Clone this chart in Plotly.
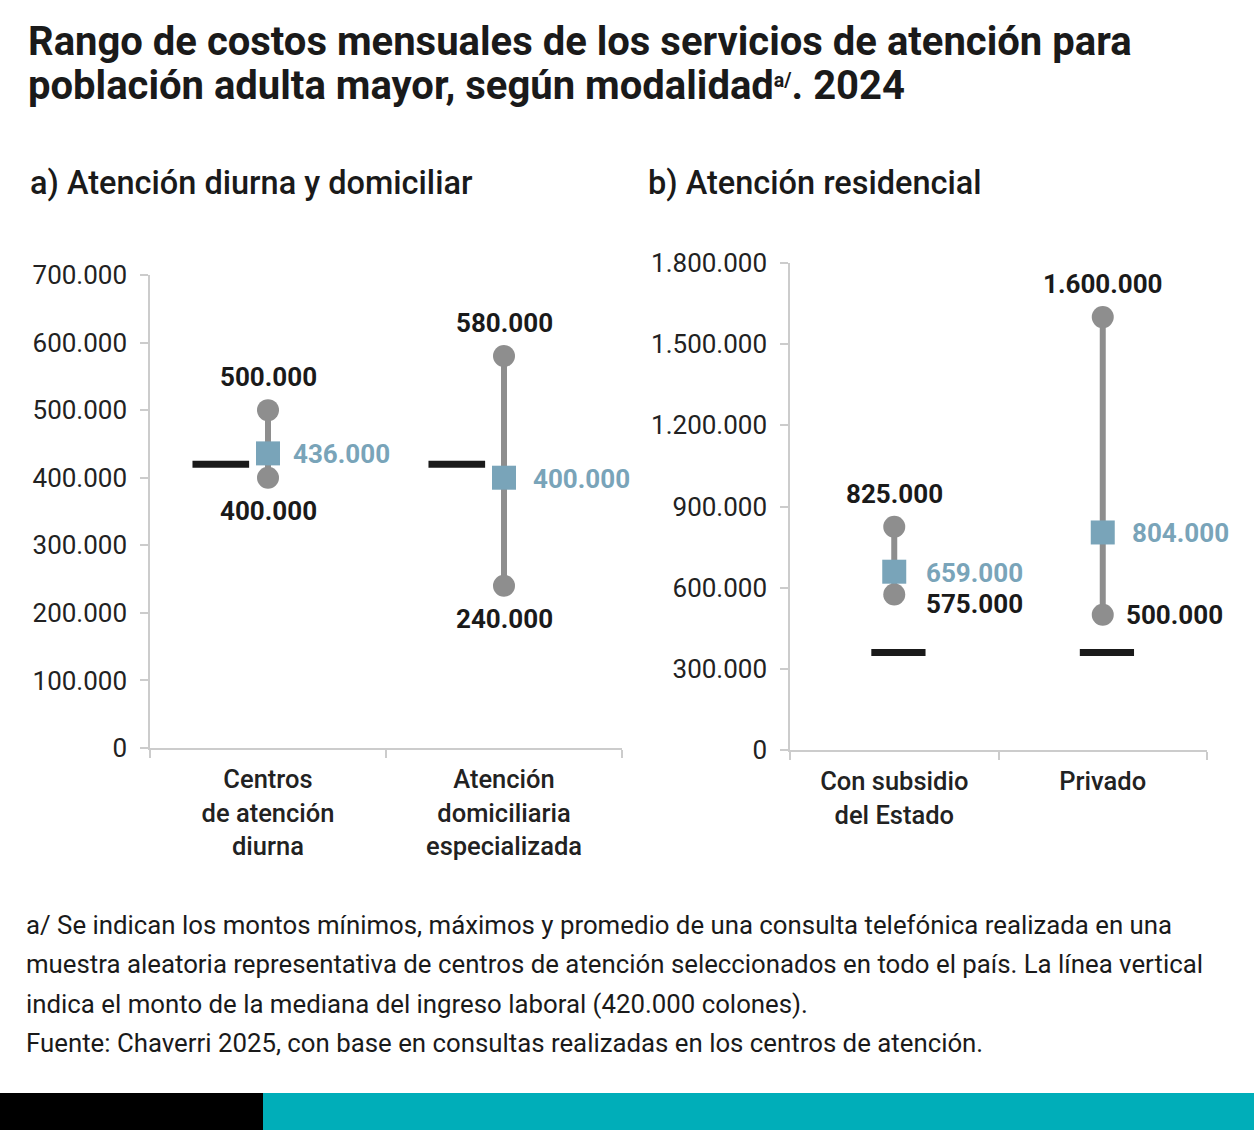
import plotly.graph_objects as go

# ---- data ----
cats_a = ["Centros<br>de atención<br>diurna", "Atención<br>domiciliaria<br>especializada"]
min_a = [400000, 240000]
max_a = [500000, 580000]
mean_a = [436000, 400000]
median_a = [420000, 420000]

cats_b = ["Con subsidio<br>del Estado", "Privado"]
min_b = [575000, 500000]
max_b = [825000, 1600000]
mean_b = [659000, 804000]
median_b = [360000, 360000]

yticks_a = [0, 100000, 200000, 300000, 400000, 500000, 600000, 700000]
yticks_b = [0, 300000, 600000, 900000, 1200000, 1500000, 1800000]

title_lines = ["Rango de costos mensuales de los servicios de atención para",
               "población adulta mayor, según modalidad<span style='font-size:28px'><sup>a/</sup></span>. 2024"]
subtitle_a = "a) Atención diurna y domiciliar"
subtitle_b = "b) Atención residencial"
note_lines = [
    "a/ Se indican los montos mínimos, máximos y promedio de una consulta telefónica realizada en una",
    "muestra aleatoria representativa de centros de atención seleccionados en todo el país. La línea vertical",
    "indica el monto de la mediana del ingreso laboral (420.000 colones).",
    "Fuente: Chaverri 2025, con base en consultas realizadas en los centros de atención.",
]

W, H = 1254, 1130
GRAY = "#8e8e8e"
BLUE = "#79a4b9"
DARK = "#1a1a1a"
AXC = "#cccccc"
FONT = "Roboto"


def fmt(v):
    return f"{v:,}".replace(",", ".")


fig = go.Figure()


def add_panel(xa, ya, mins, maxs, means, medians, med_off, mean_dx, min_label_side, min_shift):
    n = len(mins)
    for i in range(n):
        fig.add_trace(go.Scatter(x=[i + med_off[0], i + med_off[1]], y=[medians[i], medians[i]],
                                 mode="lines", line=dict(color=DARK, width=7),
                                 xaxis=xa, yaxis=ya, showlegend=False, hoverinfo="skip"))
        fig.add_trace(go.Scatter(x=[i, i], y=[mins[i], maxs[i]], mode="lines+markers",
                                 line=dict(color=GRAY, width=6),
                                 marker=dict(symbol="circle", size=22, color=GRAY),
                                 xaxis=xa, yaxis=ya, showlegend=False))
        fig.add_trace(go.Scatter(x=[i], y=[means[i]], mode="markers",
                                 marker=dict(symbol="square", size=24, color=BLUE),
                                 xaxis=xa, yaxis=ya, showlegend=False))
        fig.add_annotation(x=i, y=maxs[i], xref=xa, yref=ya, text=fmt(maxs[i]), showarrow=False,
                           yshift=33, font=dict(family=FONT, size=26, color=DARK, weight="bold"))
        fig.add_annotation(x=i, y=means[i], xref=xa, yref=ya, text=fmt(means[i]), showarrow=False,
                           xanchor="left", xshift=mean_dx[i], yshift=-1,
                           font=dict(family=FONT, size=26, color=BLUE, weight="bold"))
        if min_label_side == "below":
            fig.add_annotation(x=i, y=mins[i], xref=xa, yref=ya, text=fmt(mins[i]), showarrow=False,
                               yshift=-33, font=dict(family=FONT, size=26, color=DARK, weight="bold"))
        else:
            fig.add_annotation(x=i, y=mins[i], xref=xa, yref=ya, text=fmt(mins[i]), showarrow=False,
                               xanchor="left", xshift=min_shift[i][0], yshift=min_shift[i][1],
                               font=dict(family=FONT, size=26, color=DARK, weight="bold"))


add_panel("x", "y", min_a, max_a, mean_a, median_a, (-0.32, -0.08), (23, 27), "below", None)
add_panel("x2", "y2", min_b, max_b, mean_b, median_b, (-0.11, 0.15), (30, 27), "right", [(30, -10), (21, 0)])

axis_common = dict(showgrid=False, zeroline=False, showline=True, linecolor=AXC, linewidth=1.5,
                   automargin=False, fixedrange=True)
xfont = dict(family=FONT, size=25.5, color="#222", weight=500)
yfont = dict(family=FONT, size=26, color="#222")

fig.update_layout(
    template="none",
    width=W, height=H, margin=dict(l=0, r=0, t=0, b=0, autoexpand=False),
    paper_bgcolor="white", plot_bgcolor="white", separators=",.",
    showlegend=False,
    xaxis=dict(domain=[150 / W, 622 / W], range=[-0.5, 1.5], tickvals=[0, 1], ticktext=cats_a,
               ticks="", tickfont=xfont, ticklabelstandoff=8,
               minor=dict(tickvals=[-0.5, 0.5, 1.5], ticks="outside", ticklen=8, tickcolor=AXC, tickwidth=1.5),
               anchor="y", **axis_common),
    yaxis=dict(domain=[1 - 748 / H, 1 - 275 / H], range=[0, 700000], tickvals=yticks_a, tickformat=",d",
               ticks="outside", ticklen=8, tickcolor=AXC, tickwidth=1.5, ticklabelstandoff=8,
               tickfont=yfont, anchor="x", **axis_common),
    xaxis2=dict(domain=[790 / W, 1207 / W], range=[-0.5, 1.5], tickvals=[0, 1], ticktext=cats_b,
                ticks="", tickfont=xfont, ticklabelstandoff=8,
                minor=dict(tickvals=[-0.5, 0.5, 1.5], ticks="outside", ticklen=8, tickcolor=AXC, tickwidth=1.5),
                anchor="y2", **axis_common),
    yaxis2=dict(domain=[1 - 750 / H, 1 - 263 / H], range=[0, 1800000], tickvals=yticks_b, tickformat=",d",
                ticks="outside", ticklen=8, tickcolor=AXC, tickwidth=1.5, ticklabelstandoff=8,
                tickfont=yfont, anchor="x2", **axis_common),
)

# titles
for k, line in enumerate(title_lines):
    fig.add_annotation(x=26 / W, y=1 - (41 + 45 * k) / H, xref="paper", yref="paper", text=line,
                       showarrow=False, xanchor="left", yanchor="middle",
                       font=dict(family=FONT, size=40, color=DARK, weight="bold"))
fig.add_annotation(x=28 / W, y=1 - 183 / H, xref="paper", yref="paper", text=subtitle_a, showarrow=False,
                   xanchor="left", yanchor="middle", font=dict(family=FONT, size=32.5, color=DARK, weight=500))
fig.add_annotation(x=646 / W, y=1 - 183 / H, xref="paper", yref="paper", text=subtitle_b, showarrow=False,
                   xanchor="left", yanchor="middle", font=dict(family=FONT, size=32.5, color=DARK, weight=500))

for k, line in enumerate(note_lines):
    fig.add_annotation(x=24 / W, y=1 - (925 + 39.3 * k) / H, xref="paper", yref="paper", text=line,
                       showarrow=False, xanchor="left", yanchor="middle",
                       font=dict(family=FONT, size=25.8, color=DARK))

# bottom band
band_top = 1 - 1093 / H
fig.add_shape(type="rect", xref="paper", yref="paper", x0=0, x1=263 / W, y0=0, y1=band_top,
              fillcolor="#000000", line_width=0)
fig.add_shape(type="rect", xref="paper", yref="paper", x0=263 / W, x1=1, y0=0, y1=band_top,
              fillcolor="#00aeb9", line_width=0)

fig.write_html("out.html", config={"displayModeBar": False})
